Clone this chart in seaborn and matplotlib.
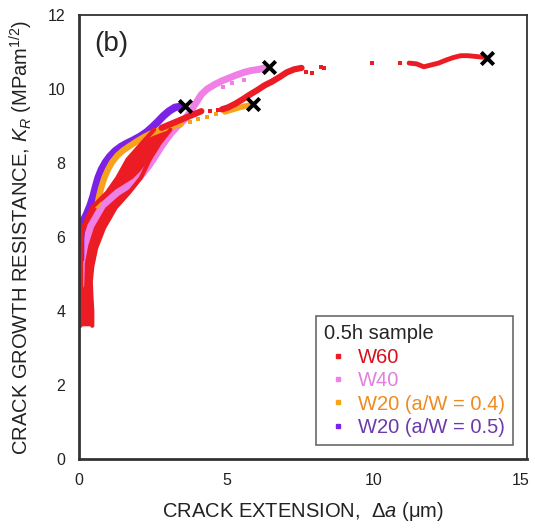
import numpy as np
import pandas as pd
import matplotlib
matplotlib.use("Agg")
import matplotlib.pyplot as plt
from matplotlib.lines import Line2D
from matplotlib.ticker import MultipleLocator
import seaborn as sns

# W60 (red): wide band near the start, given as left/right edges per K level
w60_band_k = [3.6, 4.0, 4.4, 4.8, 5.2, 5.7, 6.25, 6.8, 7.2, 7.6, 8.1, 8.55, 8.9]
w60_band_left = [0.05, 0.07, 0.07, 0.07, 0.07, 0.07, 0.13, 0.45, 0.95, 1.30, 1.65, 2.15, 2.55]
w60_band_right = [0.45, 0.45, 0.42, 0.40, 0.45, 0.58, 0.85, 1.25, 1.70, 2.10, 2.40, 2.75, 3.10]
# W60 continuing curve
w60_x = [2.80, 3.10, 3.40, 3.70, 4.00, 4.15]
w60_k = [8.95, 9.05, 9.15, 9.25, 9.35, 9.40]
w60_x2 = [4.85, 5.05, 5.30, 5.55, 5.80, 6.05, 6.30, 6.55, 6.80, 7.05, 7.30, 7.55]
w60_k2 = [9.45, 9.50, 9.60, 9.72, 9.85, 9.97, 10.10, 10.20, 10.32, 10.45, 10.53, 10.57]
w60_x3 = [11.20, 11.45, 11.70, 11.95, 12.20, 12.45, 12.70, 12.95, 13.20, 13.45, 13.70]
w60_k3 = [10.70, 10.68, 10.60, 10.65, 10.70, 10.78, 10.85, 10.90, 10.90, 10.88, 10.86]
# W60 isolated points
w60_dot_x = [4.45, 4.70, 7.70, 7.90, 8.20, 8.30, 9.95, 10.90]
w60_dot_k = [9.40, 9.42, 10.46, 10.43, 10.60, 10.56, 10.70, 10.70]

# W40 (pink)
w40_x = [0.06, 0.08, 0.20, 0.40, 0.80, 1.30, 1.90, 2.15, 2.35, 2.52, 2.68, 2.80,
         2.95, 3.12, 3.35, 3.55, 3.75, 3.95, 4.15, 4.35, 4.60, 4.85, 5.10, 5.35,
         5.60, 5.85, 6.10, 6.35]
w40_k = [4.70, 5.30, 5.80, 6.30, 6.85, 7.20, 7.50, 7.70, 7.90, 8.10, 8.30, 8.45,
         8.62, 8.80, 9.00, 9.15, 9.35, 9.60, 9.85, 10.00, 10.12, 10.22, 10.30, 10.38,
         10.45, 10.50, 10.53, 10.58]
w40_dot_x = [4.90, 5.20, 5.60]
w40_dot_k = [10.05, 10.15, 10.25]

# W20 (a/W = 0.4) - orange
w20a_x = [0.62, 0.68, 0.76, 0.86, 0.98, 1.12, 1.30, 1.50, 1.72, 1.95, 2.20, 2.45,
          2.70, 2.95, 3.20, 3.45]
w20a_k = [6.85, 7.10, 7.35, 7.60, 7.82, 8.02, 8.20, 8.34, 8.46, 8.58, 8.70, 8.80,
          8.88, 8.95, 9.00, 9.05]
w20a_x2 = [4.95, 5.20, 5.45, 5.75]
w20a_k2 = [9.38, 9.44, 9.50, 9.56]
w20a_dot_x = [3.75, 4.05, 4.35, 4.65]
w20a_dot_k = [9.10, 9.18, 9.25, 9.32]

# W20 (a/W = 0.5) - purple
w20b_x = [0.05, 0.05, 0.07, 0.12, 0.25, 0.38, 0.48, 0.56, 0.65, 0.76,
          0.90, 1.05, 1.22, 1.42, 1.62, 1.85, 2.08, 2.30, 2.50, 2.68, 2.86, 3.05,
          3.25, 3.45]
w20b_k = [5.40, 5.90, 6.20, 6.40, 6.60, 6.85, 7.10, 7.35, 7.60, 7.82,
          8.02, 8.18, 8.32, 8.44, 8.53, 8.62, 8.72, 8.84, 8.98, 9.12, 9.27, 9.40,
          9.50, 9.53]

# fracture points
end_x = [3.60, 5.90, 6.45, 13.85]
end_k = [9.55, 9.60, 10.60, 10.85]

labels = ["W60", "W40", "W20 (a/W = 0.4)", "W20 (a/W = 0.5)"]
red, pink, orange, purple = "#ec1c24", "#f07fe6", "#f7a21b", "#7b22e6"
text_colors = ["#d8101e", "#e37fdc", "#ef8a1f", "#6b3aa8"]

sns.set_theme(style="white")
plt.rcParams['font.family'] = ['Liberation Sans', 'DejaVu Sans']
plt.rcParams['mathtext.fontset'] = 'custom'
plt.rcParams['mathtext.rm'] = 'Liberation Sans'
plt.rcParams['mathtext.it'] = 'Liberation Sans:italic'

fig = plt.figure(figsize=(5.35, 5.28), dpi=100)
ax = fig.add_axes([0.1477, 0.1307, 0.8373, 0.8409])

def band(x, y, color, lw):
    sns.lineplot(x=x, y=y, sort=False, estimator=None, color=color, linewidth=lw,
                 solid_capstyle="round", ax=ax)

def dots(x, y, color, s=10):
    sns.scatterplot(x=x, y=y, color=color, marker="s", s=s, linewidth=0, ax=ax)

# pink first, red on top
band(w40_x, w40_k, pink, 5)
dots(w40_dot_x, w40_dot_k, pink)
band(w20b_x, w20b_k, purple, 5.5)
band(w20a_x, w20a_k, orange, 4.5)
band(w20a_x2, w20a_k2, orange, 4)
dots(w20a_dot_x, w20a_dot_k, orange, 12)
ax.fill_betweenx(w60_band_k, w60_band_left, w60_band_right, color=red, linewidth=0)
band(w60_band_left, w60_band_k, red, 3)
band(w60_band_right, w60_band_k, red, 3)
band(w60_x, w60_k, red, 4.5)
band(w60_x2, w60_k2, red, 4.5)
band(w60_x3, w60_k3, red, 3.5)
dots(w60_dot_x, w60_dot_k, red)

sns.scatterplot(x=end_x, y=end_k, marker="x", s=80, color="black",
                linewidth=2.8, ax=ax, zorder=5)

ax.set_xlim(0, 15.2)
ax.set_ylim(0, 12)
ax.xaxis.set_major_locator(MultipleLocator(5))
ax.xaxis.set_minor_locator(MultipleLocator(2.5))
ax.yaxis.set_major_locator(MultipleLocator(2))
ax.yaxis.set_minor_locator(MultipleLocator(1))
ax.tick_params(which="both", direction="in", color="#333333", labelsize=11.5,
               labelcolor="#222222")
ax.tick_params(which="major", length=4, width=1.2, pad=10)
ax.tick_params(which="minor", length=3, width=1.0)
for side in ["left", "bottom"]:
    ax.spines[side].set_linewidth(2)
for side in ["top", "right"]:
    ax.spines[side].set_linewidth(1.3)
for sp in ax.spines.values():
    sp.set_color("#333333")

ax.set_xlabel(r"CRACK EXTENSION,  $\mathit{\Delta a}$ (μm)", fontsize=14.5,
              color="#222222", labelpad=9)
ax.set_ylabel(r"CRACK GROWTH RESISTANCE, $K_R$ (MPam$^{1/2}$)", fontsize=14.5,
              color="#222222", labelpad=9)
ax.text(0.035, 0.935, "(b)", transform=ax.transAxes, fontsize=20, va="center")

handles = [Line2D([], [], marker="s", ls="", color=c, markersize=3.5)
           for c in [red, pink, orange, purple]]
leg = ax.legend(handles, labels, title="0.5h sample", loc="lower right",
                bbox_to_anchor=(0.969, 0.0315), borderaxespad=0,
                fontsize=14.5, title_fontsize=14.5,
                frameon=True, fancybox=False, edgecolor="#444444",
                handlelength=1.4, handletextpad=0.3, labelspacing=0.22,
                borderpad=0.4)
leg._legend_box.align = "left"
leg.get_frame().set_linewidth(1.2)
for t, c in zip(leg.get_texts(), text_colors):
    t.set_color(c)

fig.savefig("out.png", dpi=100)
